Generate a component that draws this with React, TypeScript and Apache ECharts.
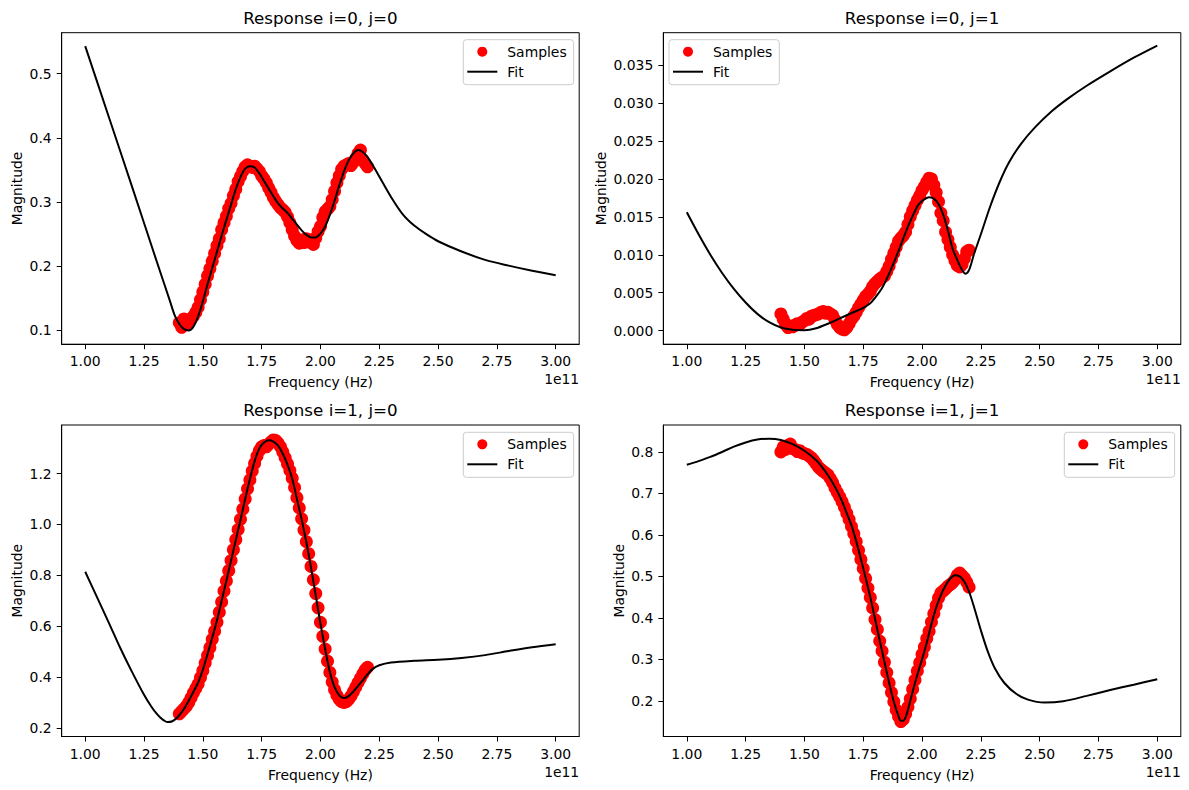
import React, { useEffect, useRef } from "react";
import * as echarts from "echarts";

// Frequencies are expressed in units of 1e11 Hz (the axis offset label shows "1e11").
const sampleFreq = [
  1.40, 1.41, 1.42, 1.43, 1.44, 1.45, 1.46, 1.47, 1.48, 1.49,
  1.50, 1.51, 1.52, 1.53, 1.54, 1.55, 1.56, 1.57, 1.58, 1.59,
  1.60, 1.61, 1.62, 1.63, 1.64, 1.65, 1.66, 1.67, 1.68, 1.69,
  1.70, 1.71, 1.72, 1.73, 1.74, 1.75, 1.76, 1.77, 1.78, 1.79,
  1.80, 1.81, 1.82, 1.83, 1.84, 1.85, 1.86, 1.87, 1.88, 1.89,
  1.90, 1.91, 1.92, 1.93, 1.94, 1.95, 1.96, 1.97, 1.98, 1.99,
  2.00, 2.01, 2.02, 2.03, 2.04, 2.05, 2.06, 2.07, 2.08, 2.09,
  2.10, 2.11, 2.12, 2.13, 2.14, 2.15, 2.16, 2.17, 2.18, 2.19,
  2.20,
];

// Measured magnitudes, one list per response (i, j)
const samples00 = [
  0.112, 0.105, 0.118, 0.110, 0.115, 0.118, 0.122, 0.128, 0.136, 0.148,
  0.160, 0.172, 0.185, 0.196, 0.208, 0.220, 0.232, 0.243, 0.257, 0.268,
  0.278, 0.290, 0.298, 0.310, 0.320, 0.332, 0.340, 0.348, 0.355, 0.358,
  0.356, 0.354, 0.356, 0.352, 0.348, 0.341, 0.336, 0.330, 0.322, 0.315,
  0.307, 0.301, 0.296, 0.291, 0.288, 0.284, 0.277, 0.268, 0.257, 0.247,
  0.240, 0.236, 0.241, 0.237, 0.243, 0.238, 0.241, 0.234, 0.244, 0.254,
  0.262, 0.276, 0.285, 0.289, 0.293, 0.304, 0.317, 0.330, 0.341, 0.351,
  0.356, 0.358, 0.360, 0.357, 0.362, 0.368, 0.376, 0.381, 0.366, 0.360,
  0.355,
];

const samples01 = [
  0.0022, 0.0015, 0.0008, 0.0004, 0.0006, 0.0005, 0.0007, 0.0009, 0.0008, 0.0011,
  0.0013, 0.0016, 0.0015, 0.0019, 0.0020, 0.0021, 0.0022, 0.0024, 0.0025, 0.0023,
  0.0024, 0.0022, 0.0020, 0.0014, 0.0008, 0.0004, 0.0002, 0.0001, 0.0004, 0.0009,
  0.0015, 0.0019, 0.0024, 0.0030, 0.0035, 0.0040, 0.0045, 0.0048, 0.0052, 0.0058,
  0.0062, 0.0065, 0.0068, 0.0070, 0.0072, 0.0078, 0.0085, 0.0094, 0.0102, 0.0110,
  0.0118, 0.0122, 0.0125, 0.0130, 0.0140, 0.0150, 0.0158, 0.0165, 0.0172, 0.0178,
  0.0185, 0.0190, 0.0196, 0.0201, 0.0200, 0.0192, 0.0182, 0.0170, 0.0155, 0.0145,
  0.0130, 0.0120, 0.0110, 0.0100, 0.0092, 0.0086, 0.0084, 0.0087, 0.0095, 0.0104,
  0.0106,
];

const samples10 = [
  0.255, 0.265, 0.275, 0.285, 0.300, 0.318, 0.338, 0.355, 0.372, 0.398,
  0.425, 0.455, 0.485, 0.515, 0.548, 0.580, 0.615, 0.655, 0.695, 0.738,
  0.778, 0.818, 0.858, 0.900, 0.940, 0.980, 1.020, 1.060, 1.100, 1.140,
  1.175, 1.210, 1.240, 1.268, 1.290, 1.305, 1.310, 1.305, 1.315, 1.325,
  1.332, 1.330, 1.320, 1.305, 1.285, 1.262, 1.238, 1.212, 1.182, 1.145,
  1.105, 1.065, 1.022, 0.978, 0.932, 0.885, 0.835, 0.782, 0.728, 0.672,
  0.615, 0.560, 0.510, 0.462, 0.418, 0.380, 0.350, 0.328, 0.312, 0.303,
  0.300, 0.303, 0.312, 0.325, 0.342, 0.360, 0.378, 0.395, 0.412, 0.428,
  0.438,
];

const samples11 = [
  0.800, 0.812, 0.806, 0.816, 0.819, 0.808, 0.806, 0.801, 0.803, 0.798,
  0.796, 0.794, 0.790, 0.786, 0.779, 0.771, 0.763, 0.758, 0.753, 0.749,
  0.745, 0.736, 0.726, 0.713, 0.702, 0.692, 0.680, 0.667, 0.652, 0.637,
  0.620, 0.603, 0.584, 0.563, 0.541, 0.519, 0.495, 0.472, 0.449, 0.424,
  0.396, 0.372, 0.344, 0.320, 0.293, 0.268, 0.243, 0.220, 0.198, 0.178,
  0.162, 0.150, 0.155, 0.168, 0.185, 0.205, 0.228, 0.250, 0.272, 0.292,
  0.312, 0.330, 0.350, 0.368, 0.390, 0.410, 0.430, 0.448, 0.460, 0.465,
  0.470, 0.476, 0.480, 0.485, 0.492, 0.503, 0.508, 0.502, 0.496, 0.486,
  0.474,
];

// Fitted model responses as [frequency, magnitude] pairs
const fit00: [number, number][] = [
  [1.00, 0.543], [1.10, 0.433], [1.20, 0.323], [1.30, 0.212], [1.36, 0.146],
  [1.38, 0.124], [1.40, 0.110], [1.42, 0.102], [1.44, 0.100], [1.46, 0.106],
  [1.48, 0.122], [1.50, 0.145], [1.52, 0.172], [1.55, 0.210], [1.58, 0.248],
  [1.61, 0.284], [1.64, 0.320], [1.66, 0.339], [1.68, 0.352], [1.70, 0.356],
  [1.72, 0.354], [1.74, 0.345], [1.76, 0.333], [1.78, 0.321], [1.80, 0.309],
  [1.82, 0.298], [1.84, 0.290], [1.86, 0.283], [1.88, 0.274], [1.90, 0.265],
  [1.92, 0.256], [1.94, 0.249], [1.96, 0.245], [1.98, 0.245], [2.00, 0.251],
  [2.02, 0.262], [2.04, 0.280], [2.06, 0.302], [2.08, 0.326], [2.10, 0.348],
  [2.12, 0.365], [2.14, 0.376], [2.16, 0.381], [2.18, 0.378], [2.20, 0.370],
  [2.22, 0.359], [2.25, 0.340], [2.30, 0.308], [2.35, 0.281], [2.40, 0.263],
  [2.45, 0.250], [2.50, 0.239], [2.60, 0.223], [2.70, 0.210], [2.80, 0.201],
  [2.90, 0.193], [3.00, 0.186],
];

const fit01: [number, number][] = [
  [1.00, 0.0156], [1.05, 0.0127], [1.10, 0.0100], [1.15, 0.0076], [1.20, 0.0055],
  [1.25, 0.0037], [1.30, 0.0022], [1.35, 0.0011], [1.40, 0.0004], [1.45, 0.0001],
  [1.50, 0.00005], [1.55, 0.0003], [1.60, 0.0009], [1.65, 0.0016], [1.70, 0.0023],
  [1.75, 0.0030], [1.78, 0.0036], [1.80, 0.0043], [1.83, 0.0056], [1.86, 0.0075],
  [1.90, 0.0105], [1.94, 0.0137], [1.98, 0.0164], [2.00, 0.0171], [2.03, 0.0176],
  [2.05, 0.0174], [2.07, 0.0167], [2.09, 0.0153], [2.11, 0.0132], [2.13, 0.0108],
  [2.15, 0.0093], [2.17, 0.0080], [2.185, 0.0075], [2.20, 0.0080], [2.22, 0.0100],
  [2.25, 0.0127], [2.29, 0.0164], [2.33, 0.0196], [2.37, 0.0222], [2.42, 0.0246],
  [2.48, 0.0268], [2.55, 0.0289], [2.62, 0.0306], [2.70, 0.0323], [2.80, 0.0342],
  [2.90, 0.0360], [3.00, 0.0376],
];

const fit10: [number, number][] = [
  [1.00, 0.814], [1.05, 0.714], [1.10, 0.614], [1.15, 0.512], [1.20, 0.418],
  [1.25, 0.330], [1.28, 0.285], [1.30, 0.260], [1.32, 0.240], [1.34, 0.226],
  [1.35, 0.223], [1.37, 0.226], [1.39, 0.240], [1.41, 0.262], [1.43, 0.290],
  [1.46, 0.342], [1.48, 0.378], [1.50, 0.428], [1.52, 0.490], [1.54, 0.555],
  [1.56, 0.622], [1.58, 0.700], [1.60, 0.778], [1.62, 0.858], [1.64, 0.938],
  [1.66, 1.018], [1.68, 1.100], [1.70, 1.178], [1.72, 1.248], [1.74, 1.298],
  [1.76, 1.322], [1.78, 1.331], [1.80, 1.326], [1.82, 1.310], [1.84, 1.278],
  [1.86, 1.235], [1.88, 1.180], [1.90, 1.100], [1.92, 1.020], [1.94, 0.930],
  [1.96, 0.830], [1.98, 0.720], [2.00, 0.610], [2.02, 0.510], [2.04, 0.420],
  [2.06, 0.360], [2.08, 0.328], [2.10, 0.317], [2.12, 0.325], [2.14, 0.343],
  [2.16, 0.365], [2.18, 0.387], [2.20, 0.410], [2.22, 0.430], [2.25, 0.446],
  [2.30, 0.457], [2.40, 0.464], [2.50, 0.468], [2.60, 0.475], [2.70, 0.486],
  [2.80, 0.502], [2.90, 0.517], [3.00, 0.529],
];

const fit11: [number, number][] = [
  [1.00, 0.769], [1.05, 0.778], [1.10, 0.788], [1.15, 0.800], [1.20, 0.813],
  [1.25, 0.823], [1.30, 0.830], [1.35, 0.832], [1.40, 0.829], [1.45, 0.819],
  [1.50, 0.803], [1.55, 0.780], [1.58, 0.760], [1.60, 0.744], [1.62, 0.726],
  [1.64, 0.705], [1.66, 0.681], [1.68, 0.652], [1.70, 0.623], [1.72, 0.585],
  [1.74, 0.542], [1.76, 0.497], [1.78, 0.450], [1.80, 0.398], [1.82, 0.346],
  [1.84, 0.294], [1.86, 0.244], [1.88, 0.198], [1.90, 0.163], [1.91, 0.152],
  [1.92, 0.152], [1.93, 0.160], [1.94, 0.178], [1.96, 0.222], [1.98, 0.263],
  [2.00, 0.300], [2.02, 0.340], [2.04, 0.385], [2.06, 0.425], [2.08, 0.455],
  [2.10, 0.478], [2.12, 0.495], [2.14, 0.503], [2.16, 0.500], [2.18, 0.487],
  [2.20, 0.463], [2.22, 0.428], [2.25, 0.370], [2.28, 0.318], [2.31, 0.278],
  [2.35, 0.243], [2.40, 0.217], [2.45, 0.203], [2.52, 0.196], [2.60, 0.199],
  [2.70, 0.212], [2.80, 0.226], [2.90, 0.239], [3.00, 0.252],
];

// Tick positions
const freqTicks = [1.0, 1.25, 1.5, 1.75, 2.0, 2.25, 2.5, 2.75, 3.0];
const magTicks00 = [0.1, 0.2, 0.3, 0.4, 0.5];
const magTicks01 = [0, 0.005, 0.01, 0.015, 0.02, 0.025, 0.03, 0.035];
const magTicks10 = [0.2, 0.4, 0.6, 0.8, 1.0, 1.2];
const magTicks11 = [0.2, 0.3, 0.4, 0.5, 0.6, 0.7, 0.8];

const titles = ["Response i=0, j=0", "Response i=0, j=1", "Response i=1, j=0", "Response i=1, j=1"];

const FONT = '"DejaVu Sans", "Liberation Sans", sans-serif';
const TICK_SIZE = 13.9;
const TITLE_SIZE = 16.7;

const GRID_W = 517.5;
const GRID_H = 311.5;

// Legend handle for the fitted line: a plain horizontal stroke
const LINE_ICON = "path://M0,0 L30,0 L30,2 L0,2 Z";

const panels = [
  { left: 61.7, top: 32.7, samples: samples00, fit: fit00, ticks: magTicks00, yMin: 0.0786, yMax: 0.5639, digits: 1, nameGap: 37.7, legendLeft: 463.3, legendTop: 39.7 },
  { left: 663.3, top: 32.7, samples: samples01, fit: fit01, ticks: magTicks01, yMin: -0.0018, yMax: 0.0393, digits: 3, nameGap: 55.4, legendLeft: 669, legendTop: 39.7 },
  { left: 61.7, top: 425, samples: samples10, fit: fit10, ticks: magTicks10, yMin: 0.166, yMax: 1.391, digits: 1, nameGap: 37.7, legendLeft: 463.3, legendTop: 432.3 },
  { left: 663.3, top: 425, samples: samples11, fit: fit11, ticks: magTicks11, yMin: 0.114, yMax: 0.865, digits: 1, nameGap: 37.6, legendLeft: 1064.3, legendTop: 432.3 },
];

function buildOption() {
  const grid = panels.map((p) => ({
    left: p.left,
    top: p.top,
    width: GRID_W,
    height: GRID_H,
    show: true,
    borderColor: "#000",
    borderWidth: 1,
    backgroundColor: "#fff",
    containLabel: false,
    outerBoundsMode: "none",
  }));

  const axisCommon = {
    axisLine: { show: true, onZero: false, lineStyle: { color: "#000", width: 1 } },
    axisTick: { show: true, inside: false, length: 5, lineStyle: { color: "#000", width: 1 } },
    splitLine: { show: false },
    nameTextStyle: { fontFamily: FONT, fontSize: TICK_SIZE, color: "#000" },
  };

  const xAxis = panels.map((_, i) => ({
    type: "value",
    gridIndex: i,
    min: 0.9,
    max: 3.1,
    name: "Frequency (Hz)",
    nameLocation: "middle",
    nameGap: 31,
    ...axisCommon,
    axisTick: { ...axisCommon.axisTick, customValues: freqTicks },
    axisLabel: {
      customValues: freqTicks,
      margin: 10,
      fontFamily: FONT,
      fontSize: TICK_SIZE,
      color: "#000",
      formatter: (v: number) => v.toFixed(2),
    },
  }));

  const yAxis = panels.map((p, i) => ({
    type: "value",
    gridIndex: i,
    min: p.yMin,
    max: p.yMax,
    name: "Magnitude",
    nameLocation: "middle",
    nameRotate: 90,
    nameGap: p.nameGap,
    ...axisCommon,
    axisTick: { ...axisCommon.axisTick, customValues: p.ticks },
    axisLabel: {
      customValues: p.ticks,
      margin: 10,
      fontFamily: FONT,
      fontSize: TICK_SIZE,
      color: "#000",
      formatter: (v: number) => v.toFixed(p.digits),
    },
  }));

  const series: any[] = [];
  panels.forEach((p, i) => {
    series.push({
      type: "scatter",
      name: "Samples",
      xAxisIndex: i,
      yAxisIndex: i,
      data: sampleFreq.map((f, k) => [f, p.samples[k]]),
      symbol: "circle",
      symbolSize: 13,
      itemStyle: { color: "#ff0000", opacity: 1 },
      silent: true,
      z: 2,
    });
    series.push({
      type: "line",
      name: "Fit",
      xAxisIndex: i,
      yAxisIndex: i,
      data: p.fit,
      symbol: "none",
      smooth: 0.3,
      lineStyle: { color: "#000", width: 2 },
      itemStyle: { color: "#000" },
      silent: true,
      z: 3,
    });
  });

  const legend = panels.map((p) => ({
    orient: "vertical",
    left: p.legendLeft,
    top: p.legendTop,
    padding: [5, 7, 6, 4],
    itemWidth: 30,
    itemHeight: 10,
    itemGap: 6,
    selectedMode: false,
    backgroundColor: "rgba(255,255,255,0.8)",
    borderColor: "#cccccc",
    borderWidth: 1,
    borderRadius: 3,
    textStyle: { fontFamily: FONT, fontSize: TICK_SIZE, color: "#000", padding: [0, 0, 0, 5] },
    data: [
      { name: "Samples", icon: "circle" },
      { name: "Fit", icon: LINE_ICON },
    ],
  }));

  const titleText = panels.map((p, i) => ({
    type: "text",
    x: p.left + GRID_W / 2,
    y: p.top - 15,
    silent: true,
    style: {
      text: titles[i],
      fill: "#000",
      font: `${TITLE_SIZE}px ${FONT}`,
      align: "center",
      verticalAlign: "middle",
      textAlign: "center",
      textVerticalAlign: "middle",
    },
  }));

  const offsetText = panels.map((p) => ({
    type: "text",
    x: p.left + GRID_W,
    y: p.top + GRID_H + 35,
    silent: true,
    style: {
      text: "1e11",
      fill: "#000",
      font: `${TICK_SIZE}px ${FONT}`,
      align: "right",
      verticalAlign: "middle",
      textAlign: "right",
      textVerticalAlign: "middle",
    },
  }));

  return {
    animation: false,
    backgroundColor: "#fff",
    textStyle: { fontFamily: FONT },
    grid,
    xAxis,
    yAxis,
    legend,
    series,
    graphic: [...titleText, ...offsetText],
  };
}

export default function App() {
  const ref = useRef<HTMLDivElement>(null);

  useEffect(() => {
    if (!ref.current) return;
    const chart = echarts.init(ref.current, null, { renderer: "svg" });
    chart.setOption(buildOption() as any);
    return () => chart.dispose();
  }, []);

  return (
    <div
      ref={ref}
      style={{ position: "fixed", left: 0, top: 0, width: 1189, height: 790, background: "#fff" }}
    />
  );
}
